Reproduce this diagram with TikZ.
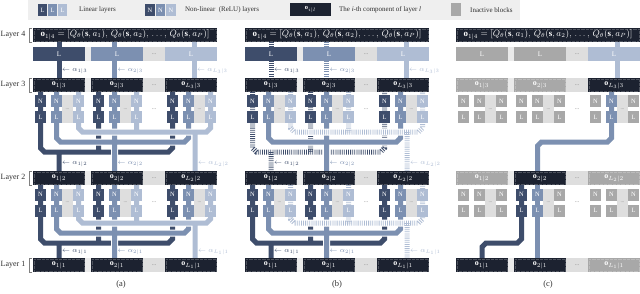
\documentclass[tikz,border=0pt]{standalone}
\usepackage{fontspec}
\setmainfont{Liberation Serif}
\definecolor{cA}{HTML}{3E4D6B}
\definecolor{cB}{HTML}{7C90B1}
\definecolor{cC}{HTML}{AFBDD4}
\definecolor{cBar}{HTML}{1C2230}
\definecolor{cIn}{HTML}{A8A8A8}
\definecolor{cDot}{HTML}{DEDEDE}
\definecolor{cStrip}{HTML}{EAEAEA}
\definecolor{cLeg}{HTML}{EFEFEF}
\definecolor{cTxt}{HTML}{2E2E2E}
\tikzset{
 sol/.style={draw=#1, line cap=rect},
 hat/.style={draw=#1, line cap=butt, dash pattern=on 0.8bp off 1.3bp},
 nlb/.style={rectangle, inner sep=0pt, minimum width=11bp, minimum height=12bp, fill=#1, text=white, font=\fontsize{6.5}{6.5}\selectfont},
 barb/.style={rectangle, inner sep=0pt, minimum width=52bp, minimum height=14bp, fill=#1, text=white, font=\fontsize{8}{8}\selectfont,
   path picture={\draw[white, opacity=0.22, line width=0.3bp, dash pattern=on 0.5bp off 0.8bp] ([xshift=1.2bp,yshift=-1.2bp]path picture bounding box.north west) rectangle ([xshift=-1.2bp,yshift=1.2bp]path picture bounding box.south east);}},
 lbox/.style={rectangle, inner sep=0pt, minimum width=52bp, minimum height=14bp, fill=#1, text=white, font=\fontsize{7}{7}\selectfont},
 dotb/.style={rectangle, inner sep=0pt, minimum width=22bp, minimum height=14bp, fill=cDot, text=gray, font=\fontsize{6}{6}\selectfont},
 dotc/.style={rectangle, inner sep=0pt, minimum width=11bp, minimum height=28bp, fill=cDot, text=gray, font=\fontsize{5}{5}\selectfont},
 dott/.style={inner sep=0pt, text=gray, font=\fontsize{6}{6}\selectfont},
 alab/.style={anchor=west, inner sep=0pt, font=\fontsize{7}{7}\selectfont},
 laylab/.style={anchor=east, inner sep=0pt, font=\fontsize{8}{8}\selectfont, text=cTxt},
 capt/.style={inner sep=0pt, font=\fontsize{8.5}{8.5}\selectfont, text=cTxt},
 legb/.style={rectangle, inner sep=0pt, minimum width=9.5bp, minimum height=12bp, fill=#1, text=white, font=\fontsize{6.5}{6.5}\selectfont},
 legt/.style={anchor=west, inner sep=0pt, font=\fontsize{7}{7}\selectfont, text=cTxt},
}
\newcommand\wire[2]{%
  \draw[line width=7bp, white] #2;
  \draw[line width=5bp, #1] #2;}
\newcommand\bus[6]{%
 \pgfmathsetmacro\sj{{7.5,23.5,45.5}[#5-1]}%
 \pgfmathsetmacro\dj{{59,114.5,195}[#5-1]}%
 \pgfmathsetmacro\xL{#1+33+\sj}%
 \pgfmathsetmacro\xM{#1+91+\sj}%
 \pgfmathsetmacro\xR{#1+165+\sj}%
 \pgfmathsetmacro\xD{#1+\dj}%
 \wire{#6}{(\xL,#2) -- (\xL,#3-4) -- (\xL+4,#3) -- (\xR-4,#3) -- (\xR,#3-4) -- (\xR,#2) (\xM,#2) -- (\xM,#3) (\xD,#3) -- (\xD,#4)}%
}
\newcommand\topw[4]{%
 \wire{#2}{(#1+59,42) -- (#1+59,78)}%
 \wire{#3}{(#1+114.5,42) -- (#1+114.5,78)}%
 \wire{#4}{(#1+194,42) -- (#1+194,78)}}
\newcommand\panelbg[2]{%
 \foreach \yy/\kk in {54/4,85/3,178/2,265/1}{
   \fill[cStrip] (#1+85,\yy-7) rectangle (#1+91,\yy+7);
   \node[dotb] (#2d\kk) at (#1+154,\yy) {...};
 }
 \foreach \yy/\kk in {109/3,202.5/2}{
   \foreach \gx/\gi in {33/1,91/2,165/3}{
     \node[dotc] (#2c\kk-\gi) at (#1+\gx+34.5,\yy) {...};
   }
   \node[dott] (#2e\kk) at (#1+154,\yy) {...};
 }}
\newcommand\formula{$\mathbf{o}_{1|4} = [Q_\theta(\mathbf{s}, a_1),\, Q_\theta(\mathbf{s}, a_2),\, \ldots,\, Q_\theta(\mathbf{s}, a_P)]$}
\newcommand\nodesab[2]{%
 \node[barb=cBar, minimum width=184bp, font=\fontsize{9}{9}\selectfont] (#2b4) at (#1+125,35) {\formula};
 \node[lbox=cA] (#2T1) at (#1+59,54) {L};
 \node[lbox=cB] (#2T2) at (#1+117,54) {L};
 \node[lbox=cC] (#2T3) at (#1+191,54) {L};
 \foreach \lr/\yy in {3/85,2/178,1/265}{
  \node[barb=cBar] (#2o\lr-1) at (#1+59,\yy) {$\mathbf{o}_{1|\lr}$};
  \node[barb=cBar] (#2o\lr-2) at (#1+117,\yy) {$\mathbf{o}_{2|\lr}$};
  \node[barb=cBar] (#2o\lr-3) at (#1+191,\yy) {$\mathbf{o}_{L_{\lr}|\lr}$};
 }
 \foreach \lr/\yn/\yl in {3/101/117,2/194.5/210.5}{
  \foreach \gi/\gx in {1/33,2/91,3/165}{
   \foreach \ji/\sx/\col in {1/7.5/cA,2/23.5/cB,3/45.5/cC}{
     \node[nlb=\col] (#2N\lr-\gi-\ji) at (#1+\gx+\sx,\yn) {N};
     \node[nlb=\col] (#2L\lr-\gi-\ji) at (#1+\gx+\sx,\yl) {L};
   }}}}
\newcommand\alabs[2]{%
 \node[alab, text=cA] (#2a3-1) at (#1+62,71) {$\leftarrow\alpha_{1|3}$};
 \node[alab, text=cB] (#2a3-2) at (#1+117.5,71) {$\leftarrow\alpha_{2|3}$};
 \node[alab, text=cC] (#2a3-3) at (#1+197,71) {$\leftarrow\alpha_{L_3|3}$};
 \node[alab, text=cA] (#2a2-1) at (#1+62,164) {$\leftarrow\alpha_{1|2}$};
 \node[alab, text=cB] (#2a2-2) at (#1+117.5,164) {$\leftarrow\alpha_{2|2}$};
 \node[alab, text=cC] (#2a2-3) at (#1+198,164) {$\leftarrow\alpha_{L_2|2}$};
 \node[alab, text=cA] (#2a1-1) at (#1+62,252) {$\leftarrow\alpha_{1|1}$};
 \node[alab, text=cB] (#2a1-2) at (#1+117.5,252) {$\leftarrow\alpha_{2|1}$};
 \node[alab, text=cC] (#2a1-3) at (#1+198,252) {$\leftarrow\alpha_{L_1|1}$};}
\begin{document}
\begin{tikzpicture}[x=1bp,y=-1bp]
\useasboundingbox (0,0) rectangle (640,293);
% legend
\fill[cLeg] (28,0) rectangle (520,19.5);
\node[legb=cA] (lgL1) at (42.5,10) {L};
\node[legb=cB] (lgL2) at (52.5,10) {L};
\node[legb=cC] (lgL3) at (62.5,10) {L};
\node[legt] (lgT1) at (79,10) {Linear layers};
\node[legb=cA] (lgN1) at (150,10) {N};
\node[legb=cB] (lgN2) at (160.5,10) {N};
\node[legb=cC] (lgN3) at (171,10) {N};
\node[legt] (lgT2) at (185,10) {Non-linear\ \ (ReLU) layers};
\node[legb=cBar, minimum width=41bp, minimum height=13bp] (lgO) at (310.5,9.5) {$\mathbf{o}_{i|l}$};
\node[legt] (lgT3) at (339,10) {The \textit{i}-th component of layer \textit{l}};
\node[legb=cIn, minimum height=13bp] (lgI) at (456,9.5) {};
\node[legt] (lgT4) at (470,10) {Inactive blocks};
% layer labels
\foreach \nn/\yy in {4/35,3/85,2/178,1/265}{
  \node[laylab] (lay\nn) at (25.5,\yy) {Layer \nn};
  \draw[gray, line width=0.5bp] (32,\yy-7) -- (29,\yy-7) -- (29,\yy+7) -- (32,\yy+7);
}
% backgrounds
\panelbg{0}{a}
\panelbg{212}{b}
\panelbg{423}{c}
% panel (a) wires
\topw{0}{sol=cA}{sol=cB}{sol=cC}
\bus{0}{92}{152}{171}{1}{sol=cA}
\bus{0}{92}{142}{171}{2}{sol=cB}
\bus{0}{92}{132}{171}{3}{sol=cC}
\bus{0}{185}{243}{258}{1}{sol=cA}
\bus{0}{185}{233}{258}{2}{sol=cB}
\bus{0}{185}{223}{258}{3}{sol=cC}
% panel (b) wires
\topw{212}{hat=cA}{hat=cB}{sol=cC}
\bus{212}{92}{152}{171}{1}{hat=cA}
\bus{212}{92}{142}{171}{2}{sol=cB}
\bus{212}{92}{132}{171}{3}{hat=cC}
\bus{212}{185}{243}{258}{1}{sol=cA}
\bus{212}{185}{233}{258}{2}{sol=cB}
\bus{212}{185}{223}{258}{3}{hat=cC}
% panel (c) wires
\wire{sol=cC}{(423+194,42) -- (423+194,78)}
\wire{sol=cB}{(423+188.5,92) -- (423+188.5,138) -- (423+184.5,142) -- (423+118.5,142) -- (423+114.5,146) -- (423+114.5,171)}
\wire{sol=cA}{(423+98.5,185) -- (423+98.5,239) -- (423+94.5,243) -- (423+63,243) -- (423+59,247) -- (423+59,258)}
\wire{sol=cB}{(423+114.5,185) -- (423+114.5,258)}
% nodes
\nodesab{0}{a}
\nodesab{212}{b}
\alabs{0}{a}
\alabs{212}{b}
% panel (c) nodes
\node[barb=cBar, minimum width=184bp, font=\fontsize{9}{9}\selectfont] (cb4) at (548,35) {\formula};
\node[lbox=cIn] (cT1) at (423+59,54) {L};
\node[lbox=cIn] (cT2) at (423+117,54) {L};
\node[lbox=cC] (cT3) at (423+191,54) {L};
\foreach \lr/\yy/\qa/\qb/\qc in {3/85/cIn/cIn/cBar,2/178/cIn/cBar/cIn,1/265/cBar/cBar/cIn}{
  \node[barb=\qa] (co\lr-1) at (423+59,\yy) {$\mathbf{o}_{1|\lr}$};
  \node[barb=\qb] (co\lr-2) at (423+117,\yy) {$\mathbf{o}_{2|\lr}$};
  \node[barb=\qc] (co\lr-3) at (423+191,\yy) {$\mathbf{o}_{L_{\lr}|\lr}$};
}
\foreach \lr/\yn/\yl in {3/101/117,2/194.5/210.5}{
 \foreach \gi/\gx in {1/33,2/91,3/165}{
  \foreach \ji/\sx/\col in {1/7.5/cA,2/23.5/cB,3/45.5/cC}{
    \pgfmathtruncatemacro\act{((\lr==3)&&(\gi==3)&&(\ji==2)) || ((\lr==2)&&(\gi==2)&&(\ji<3))}
    \ifnum\act=1 \def\fcol{\col}\else\def\fcol{cIn}\fi
    \node[nlb=\fcol] (cN\lr-\gi-\ji) at (423+\gx+\sx,\yn) {N};
    \node[nlb=\fcol] (cL\lr-\gi-\ji) at (423+\gx+\sx,\yl) {L};
  }}}
% captions
\node[capt] (capa) at (121,284) {(a)};
\node[capt] (capb) at (337,284) {(b)};
\node[capt] (capc) at (548,284) {(c)};
\end{tikzpicture}
\end{document}
